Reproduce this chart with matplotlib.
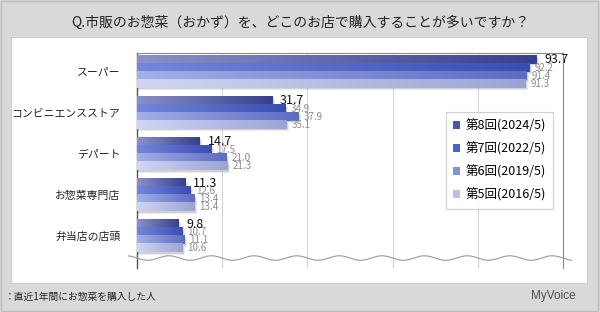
import matplotlib
matplotlib.use("Agg")
import matplotlib.pyplot as plt
import numpy as np
from matplotlib.colors import LinearSegmentedColormap
from matplotlib.patches import Rectangle

plt.rcParams['font.family'] = ['Noto Sans CJK JP', 'DejaVu Sans']

title = "Q.市販のお惣菜（おかず）を、どこのお店で購入することが多いですか？"
categories = ["スーパー", "コンビニエンスストア", "デパート", "お惣菜専門店", "弁当店の店頭"]
series_names = ["第8回(2024/5)", "第7回(2022/5)", "第6回(2019/5)", "第5回(2016/5)"]
v2024 = [93.7, 31.7, 14.7, 11.3, 9.8]
v2022 = [92.2, 34.9, 17.5, 12.6, 10.7]
v2019 = [91.4, 37.9, 21.0, 13.4, 11.1]
v2016 = [91.3, 35.1, 21.3, 13.4, 10.6]
series = [v2024, v2022, v2019, v2016]
footnote = "：直近1年間にお惣菜を購入した人"
brand = "MyVoice"

grad = [("#8a90c8", "#36408c"),
        ("#7487dc", "#3a4db2"),
        ("#a2b0e8", "#5d6cc2"),
        ("#d0d6f2", "#9ca4d4")]
legend_colors = ["#4b58a6", "#4d62c6", "#8292dc", "#b9c0e6"]

fig = plt.figure(figsize=(6, 3.12), dpi=100)
fig.patch.set_facecolor("#d9d9d9")
fig.add_artist(Rectangle((0.002, 0.004), 0.995, 0.992, transform=fig.transFigure,
                         facecolor="none", edgecolor="#bdbdbd", lw=1))
fig.add_artist(Rectangle((11/600, 1-283/312), (587-11)/600, (283-37)/312,
                         transform=fig.transFigure, facecolor="white",
                         edgecolor="#c8c8c8", lw=0.6, zorder=0))

fig.text(0.5, 1-23/312, title, ha="center", va="center", fontsize=10, color="#222222")
fig.text(5/600, 1-297/312, footnote, ha="left", va="center", fontsize=7, color="#222222")
fig.text(576/600, 1-296/312, brand, ha="right", va="center", fontsize=8.5,
         color="#505050", family=["Liberation Sans Narrow", "Liberation Sans", "DejaVu Sans"])

ax = fig.add_axes([137/600, 1-268/312, 426/600, 215/312])
ax.set_facecolor("none")

bh = 8/41
offs = [-1.5, -0.5, 0.5, 1.5]
px_x = 100/426
px_y = 1/41

for gx in [20, 40, 60, 80]:
    ax.axvline(gx, color="#d4d4d4", lw=0.8, zorder=0)

for j, vals in enumerate(series):
    cmap = LinearSegmentedColormap.from_list("g%d" % j, list(grad[j]))
    for i, v in enumerate(vals):
        yc = i + offs[j]*bh
        y0, y1 = yc - bh/2, yc + bh/2
        for k, a in [(2.5, 0.10), (1.5, 0.15)]:
            ax.add_patch(Rectangle((0, y0 + k*px_y), v + k*px_x, bh,
                                   facecolor="#404040", alpha=a, lw=0, zorder=2+j*3))
        g = np.linspace(0, 1, 128).reshape(1, -1)
        ax.imshow(g, cmap=cmap, extent=[0, v, y1, y0], aspect="auto",
                  zorder=3+j*3, interpolation="bilinear")
        if j == 0:
            ax.text(v + 8*px_x, yc, f"{v:.1f}", ha="left", va="center",
                    fontsize=9, color="#111111", zorder=20)
        else:
            ax.text(v + 5*px_x, yc, f"{v:.1f}", ha="left", va="center",
                    fontsize=7, color="#8c8c8c", zorder=1+j*3)

ax.set_xlim(0, 100)
ax.set_ylim(4.78, -0.463)

wx = np.linspace(-2, 102, 600)
wy = 4.537 + 0.055*np.sin(2*np.pi*wx/10)
ax.plot(wx, wy, color="#9a9a9a", lw=0.8, clip_on=False, zorder=25)

ax.set_yticks(range(len(categories)))
ax.set_yticklabels(categories, fontsize=7.8, color="#222222")
ax.tick_params(axis="y", length=0, pad=12)
ax.set_xticks([])
for s in ["top", "right"]:
    ax.spines[s].set_color("#8a8a8a")
    ax.spines[s].set_linewidth(0.8)
ax.spines["left"].set_color("#555555")
ax.spines["left"].set_linewidth(1.0)
ax.spines["bottom"].set_visible(False)
ax.spines["top"].set_zorder(30)

handles = [Rectangle((0, 0), 1, 1, facecolor=c, edgecolor="none") for c in legend_colors]
leg = ax.legend(handles, series_names, loc="upper left",
                bbox_to_anchor=(446/600, 1-112/312), bbox_transform=fig.transFigure,
                fontsize=9, frameon=True, fancybox=False, edgecolor="#c4c4c4",
                handlelength=0.6, handleheight=0.6, handletextpad=0.4,
                labelspacing=0.78, borderpad=0.55, borderaxespad=0)
leg.get_frame().set_linewidth(0.8)
leg.set_zorder(40)

fig.savefig("out.png", dpi=100, facecolor=fig.get_facecolor())
